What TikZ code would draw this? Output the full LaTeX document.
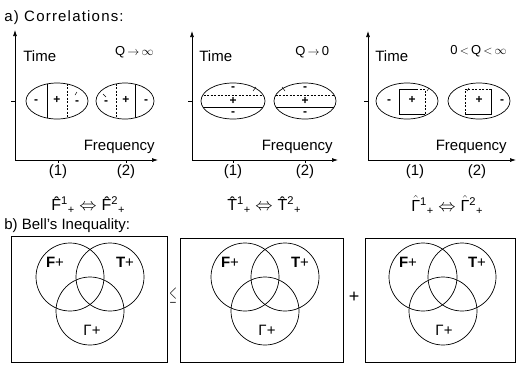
\documentclass[tikz,border=0pt]{standalone}
\usepackage{fontspec}
\usepackage{amsmath}
\usepackage{graphicx}
\setmainfont{Liberation Sans}
\usetikzlibrary{arrows.meta}
\newcommand{\subplus}{\raisebox{-2.5pt}{\fontsize{11}{12}\selectfont +}}
\newcommand{\corr}[1]{#1^^^^0302\textsuperscript{1}\subplus\hspace{5pt}$\Leftrightarrow$\hspace{5pt}#1^^^^0302\textsuperscript{2}\subplus}
\newcommand{\corrg}{$\hat{\text{Γ}}$\textsuperscript{1}\subplus\hspace{5pt}$\Leftrightarrow$\hspace{5pt}$\hat{\text{Γ}}$\textsuperscript{2}\subplus}
\begin{document}
\begin{tikzpicture}[x=1pt,y=-1pt,line width=0.7pt,
  axis/.style={-{Latex[length=6pt,width=4pt]}},
  txt/.style={font=\fontsize{15}{18}\selectfont,inner sep=0pt},
  ftxt/.style={font=\fontsize{16}{19}\selectfont,inner sep=0pt},
  qtxt/.style={font=\fontsize{13}{16}\selectfont,inner sep=0pt},
  mk/.style={font=\fontsize{12}{14}\selectfont\bfseries,inner sep=0pt},
  vl/.style={font=\fontsize{15}{18}\selectfont,inner sep=0pt},
  dsh/.style={dash pattern=on 2pt off 1.5pt},
  tk/.style={line width=0.5pt}]
\useasboundingbox (0,0) rectangle (518,365);

% ---------- part a ----------
\node[txt,anchor=base west] (ta) at (4,21) {\addfontfeatures{LetterSpace=8}a) Correlations:};

% panel 1
\coordinate (o1) at (15,160);
\coordinate (y1) at (15,30);
\coordinate (x1) at (158,160);
\draw[axis] (o1) -- (y1);
\draw[axis] (o1) -- (x1);
\draw (11,101) -- (15,101);
\draw (58,160) -- (58,163);
\draw (126,160) -- (126,163);
\node[txt,anchor=base west] (time1) at (23,61) {Time};
\node[qtxt,anchor=base east] (q1) at (154,55) {Q\,$\rightarrow$\,$\infty$};
\node[txt,anchor=base east] (fr1) at (155,150) {Frequency};
\draw (57,101) ellipse [x radius=31pt, y radius=18pt];
\draw (125,101) ellipse [x radius=29pt, y radius=18pt];
\begin{scope}
\clip (57,101) ellipse [x radius=31pt, y radius=18pt];
\draw (47,80) -- (47,122);
\draw[dsh] (67,80) -- (67,122);
\end{scope}
\begin{scope}
\clip (125,101) ellipse [x radius=29pt, y radius=18pt];
\draw[dsh] (116,80) -- (116,122);
\draw (135,80) -- (135,122);
\end{scope}
\node[mk] (a1) at (36,102) {-};
\node[mk] (a2) at (57,100) {+};
\node[mk] (a3) at (77,103) {-};
\draw[tk] (75,95) -- (77,92);
\node[mk] (a4) at (106,103) {-};
\draw[tk] (103,94) -- (106,97);
\node[mk] (a5) at (126,100) {+};
\node[mk] (a6) at (146,102) {-};
\node[txt] (n11) at (58,172) {(1)};
\node[txt] (n12) at (126,172) {(2)};
\node[ftxt] (f1) at (88,205) {\corr{F}};

% panel 2
\coordinate (o2) at (192,160);
\coordinate (y2) at (192,31);
\coordinate (x2) at (338,160);
\draw[axis] (o2) -- (y2);
\draw[axis] (o2) -- (x2);
\draw (188,101) -- (192,101);
\draw (233,160) -- (233,163);
\draw (305,160) -- (305,163);
\node[txt,anchor=base west] (time2) at (199,61) {Time};
\node[qtxt,anchor=base west] (q2) at (295,55) {Q\,$\rightarrow$\,0};
\node[txt,anchor=base east] (fr2) at (333,150) {Frequency};
\draw (233,101) ellipse [x radius=32pt, y radius=18pt];
\draw (305,101) ellipse [x radius=31pt, y radius=18pt];
\begin{scope}
\clip (233,101) ellipse [x radius=32pt, y radius=18pt];
\draw[dsh] (200,95) -- (266,95);
\draw (200,107) -- (266,107);
\end{scope}
\begin{scope}
\clip (305,101) ellipse [x radius=31pt, y radius=18pt];
\draw[dsh] (272,95) -- (338,95);
\draw (272,107) -- (338,107);
\end{scope}
\node[mk] (b1) at (233,89) {-};
\node[mk] (b2) at (233,101) {+};
\node[mk] (b3) at (233,114) {-};
\draw[tk] (253,91) -- (256,87);
\node[mk] (b4) at (305,89) {-};
\node[mk] (b5) at (305,101) {+};
\node[mk] (b6) at (305,114) {-};
\draw[tk] (282,87) -- (285,91);
\node[txt] (n21) at (233,172) {(1)};
\node[txt] (n22) at (305,172) {(2)};
\node[ftxt] (f2) at (264,205) {\corr{T}};

% panel 3
\coordinate (o3) at (368,160);
\coordinate (y3) at (368,31);
\coordinate (x3) at (516,160);
\draw[axis] (o3) -- (y3);
\draw[axis] (o3) -- (x3);
\draw (364,101) -- (368,101);
\node[txt,anchor=base west] (time3) at (375,61) {Time};
\node[qtxt,anchor=base east] (q3) at (507,54) {0\,$<$\,Q\,$<$\,$\infty$};
\node[txt,anchor=base east] (fr3) at (507,150) {Frequency};
\draw (407,101) ellipse [x radius=31pt, y radius=18pt];
\draw (479,101) ellipse [x radius=31pt, y radius=18pt];
\draw (416,89) -- (399,89) -- (399,114) -- (425,114);
\draw[dsh] (416,89) -- (425,89) -- (425,114);
\draw[tk] (427,91) -- (429,88);
\draw (491,89) -- (491,114) -- (465,114);
\draw[dsh] (465,114) -- (465,89) -- (491,89);
\draw[tk] (467,91) -- (469,88);
\node[mk] (c1) at (389,102) {-};
\node[mk] (c2) at (412,100) {+};
\node[mk] (c3) at (479,100) {+};
\node[mk] (c4) at (502,102) {-};
\node[txt] (n31) at (415,172) {(1)};
\node[txt] (n32) at (477,172) {(2)};
\node[ftxt] (f3) at (447,205) {\corrg};

% ---------- part b ----------
\node[txt,anchor=base west] (tb) at (4,229) {b) Bell's Inequality:};

% box 1
\draw (11,236) rectangle (167,362);
\draw (70,277) circle [radius=34pt];
\draw (110,277) circle [radius=34pt];
\draw (90,311) circle [radius=34pt];
\node[vl] (v1f) at (55,262) {\textbf{F}+};
\node[vl] (v1t) at (125,262) {\textbf{T}+};
\node[vl] (v1g) at (92,330) {Γ+};

\node[inner sep=0pt] (le) at (173,296) {\scalebox{0.55}[1.15]{\fontsize{17}{20}\selectfont$\leq$}};

% box 2
\draw (180,238) rectangle (343,362);
\draw (245,277) circle [radius=34pt];
\draw (285,277) circle [radius=34pt];
\draw (265,311) circle [radius=34pt];
\node[vl] (v2f) at (230,262) {\textbf{F}+};
\node[vl] (v2t) at (300,262) {\textbf{T}+};
\node[vl] (v2g) at (267,330) {Γ+};

\node[font=\fontsize{18}{22}\selectfont,inner sep=0pt] (pl) at (354,297) {+};

% box 3
\draw (365,238) rectangle (515,362);
\draw (423,277) circle [radius=34pt];
\draw (462,277) circle [radius=34pt];
\draw (443,311) circle [radius=34pt];
\node[vl] (v3f) at (408,262) {\textbf{F}+};
\node[vl] (v3t) at (477,262) {\textbf{T}+};
\node[vl] (v3g) at (444,330) {Γ+};
\end{tikzpicture}
\end{document}
